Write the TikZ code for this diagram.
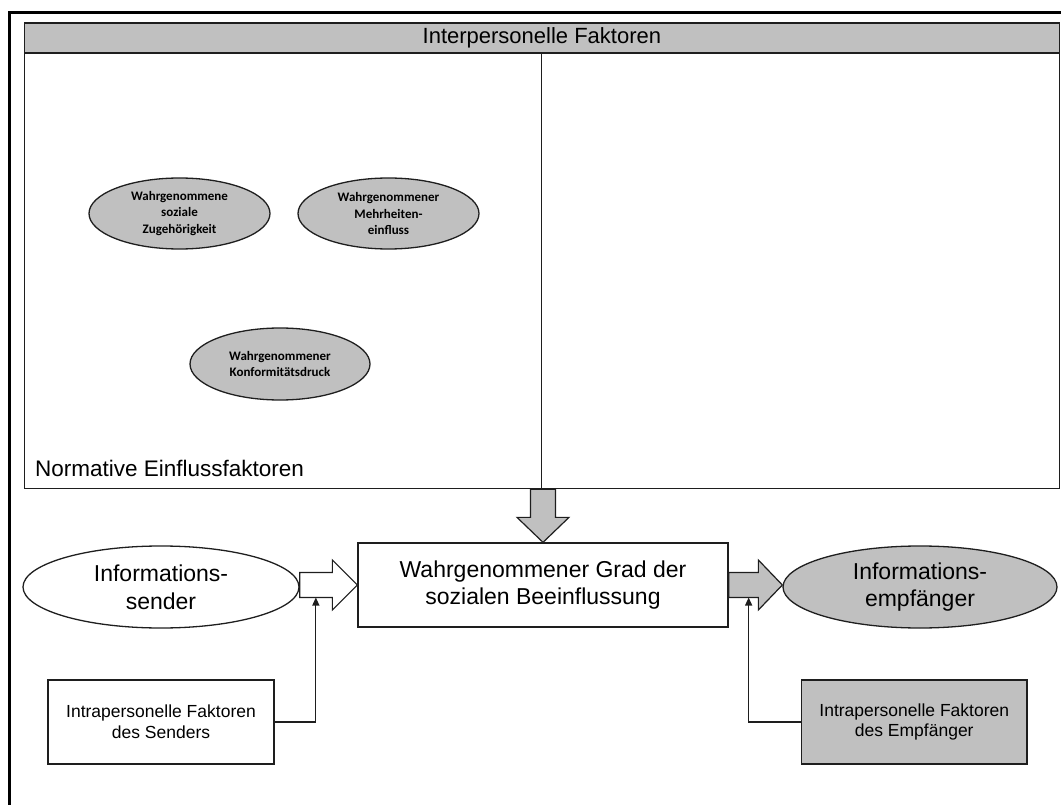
\documentclass[tikz,border=0pt]{standalone}
\usepackage{fontspec}
\setmainfont{Liberation Sans}
\newfontfamily\calibrifont{Carlito}
\usetikzlibrary{shapes.geometric,calc,arrows.meta}
\definecolor{fillgray}{RGB}{192,192,192}
\definecolor{linegray}{RGB}{30,30,30}

\begin{document}
\begin{tikzpicture}[x=1pt,y=-1pt,
  outline/.style={draw=linegray,line width=1.3pt},
  box/.style={outline,rectangle,inner sep=0pt,align=center},
  oval/.style={outline,ellipse,inner sep=0pt,align=center},
  factor/.style={oval,fill=fillgray,font=\calibrifont\bfseries\fontsize{13}{16.5}\selectfont},
  big/.style={font=\fontsize{23}{27.7}\selectfont},
  note/.style={font=\fontsize{17.5}{20.7}\selectfont},
  blockarrow/.style={outline,line width=1.2pt,line join=miter},
  feed/.style={draw=linegray,line width=1.1pt,-{Triangle[length=8pt,width=7pt]}}
]
\useasboundingbox (0,0) rectangle (1061,805);

% outer frame (open towards the right and bottom edge)
\draw[line width=3pt] (9.5,806) -- (9.5,12.5) -- (1062,12.5);

% panel of interpersonal factors
\node[box,fill=fillgray,anchor=north west,minimum width=1035.5pt,minimum height=30pt,
      font=\fontsize{22}{26}\selectfont] (header) at (23.5,22.5) {Interpersonelle Faktoren};
\node[box,anchor=north west,minimum width=517.5pt,minimum height=435.5pt] (normpanel) at (23.5,52.5) {};
\node[box,anchor=north west,minimum width=518pt,minimum height=435.5pt] (otherpanel) at (541,52.5) {};
\node[anchor=west,inner sep=0pt,font=\fontsize{22.5}{27}\selectfont] (normlabel)
     at ($(normpanel.south west)+(11.5,-21)$) {Normative Einflussfaktoren};

% normative factors
\node[factor,minimum width=181pt,minimum height=71pt] (zug) at (179.5,213.5) {Wahrgenommene\\soziale\\Zugehörigkeit};
\node[factor,minimum width=181pt,minimum height=71pt] (mehr) at (388.5,213.5) {Wahrgenommener\\Mehrheiten-\\einfluss};
\node[factor,minimum width=180pt,minimum height=72pt] (konf) at (280,364) {Wahrgenommener\\Konformitätsdruck};

% communication chain
\node[oval,big,minimum width=276pt,minimum height=82pt] (sender) at (161,587) {Informations-\\sender};
\node[oval,big,fill=fillgray,minimum width=274pt,minimum height=82pt] (receiver) at (920,587) {Informations-\\empfänger};
\node[box,big,minimum width=370pt,minimum height=84pt] (grad) at (543,585) {Wahrgenommener Grad der\\sozialen Beeinflussung};

% intrapersonal factors
\node[box,note,minimum width=226pt,minimum height=84pt] (sfac) at (161,722) {Intrapersonelle Faktoren\\des Senders};
\node[box,note,fill=fillgray,minimum width=225.5pt,minimum height=84pt] (rfac) at (914.25,722) {Intrapersonelle Faktoren\\des Empfänger};

% block arrows
\draw[blockarrow,fill=fillgray] (grad.north) -- ++(-26,-25) -- ++(13.5,0)
  -- ($(grad.north |- normpanel.south)+(-12.5,0)$) -- ++(25,0)
  -- ($(grad.north)+(12.5,-25)$) -- ++(13.5,0) -- cycle;
\draw[blockarrow,fill=white] (grad.west) -- ++(-25,-25) -- ++(0,12.5)
  -- ($(sender.east |- grad.west)+(0,-12.5)$) -- ++(0,25)
  -- ($(grad.west)+(-25,12.5)$) -- ++(0,12.5) -- cycle;
\draw[blockarrow,fill=fillgray] (receiver.west |- grad.east) -- ++(-24,-25) -- ++(0,12.5)
  -- ($(grad.east)+(0,-12.5)$) -- ++(0,25)
  -- ($(receiver.west |- grad.east)+(-24,12.5)$) -- ++(0,12.5) -- cycle;

% feedback of intrapersonal factors
\coordinate (sin) at ($(grad.west)+(-41.5,12.5)$);
\coordinate (rin) at ($(grad.east)+(20,12.5)$);
\draw[feed] (sfac.east) -| (sin);
\draw[feed] (rfac.west) -| (rin);
\end{tikzpicture}
\end{document}
